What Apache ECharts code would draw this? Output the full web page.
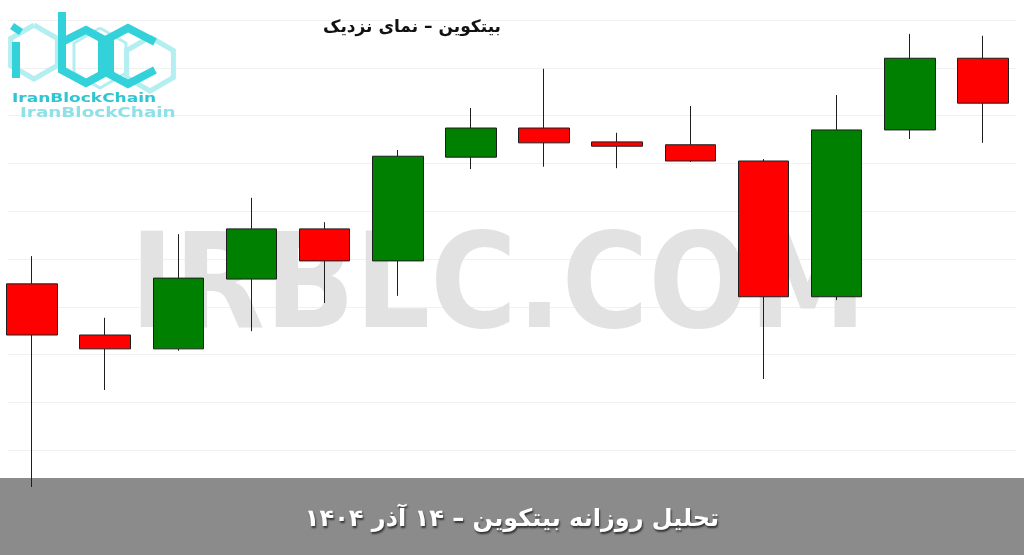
<!DOCTYPE html>
<html>
<head>
<meta charset="utf-8">
<script src="https://cdn.jsdelivr.net/npm/echarts@6/dist/echarts.min.js"></script>
<style>
html,body{margin:0;padding:0;background:#fff;}
#chart{width:1024px;height:555px;}
</style>
</head>
<body>
<div id="chart"></div>
<script>
// Daily candles: [open, close, low, high]
const days = ['1','2','3','4','5','6','7','8','9','10','11','12','13','14'];
const opens  = [88480, 87410, 87120, 88580, 89630, 88960, 91130, 91740, 91450, 91390, 91050, 88210, 91700, 93200];
const closes = [87410, 87120, 88600, 89630, 88960, 91150, 91740, 91430, 91360, 91050, 88210, 91700, 93200, 92260];
const lows   = [84230, 86260, 87080, 87490, 88080, 88230, 90880, 90930, 90900, 91030, 86490, 88140, 91510, 91430];
const highs  = [89060, 87770, 89520, 90280, 89770, 91280, 92160, 92980, 91640, 92200, 91090, 92430, 93710, 93670];
const yTicks = [84000, 94000, 1000];

const titleText = 'بیتکوین – نمای نزدیک';
const bannerText = 'تحلیل روزانه بیتکوین – ۱۴ آذر ۱۴۰۴';
const watermarkText = 'IRBLC.COM';
const logoText = 'IranBlockChain';

const candles = days.map((d, i) => [opens[i], closes[i], lows[i], highs[i]]);

function hexPts(cx, cy, r) {
  const pts = [];
  for (let k = 0; k <= 6; k++) {
    const a = Math.PI / 180 * (60 * k - 90);
    pts.push([cx + r * Math.cos(a), cy + r * Math.sin(a)]);
  }
  return pts;
}

const chart = echarts.init(document.getElementById('chart'), null, {renderer: 'canvas'});
const cyan = '#33d2da';
const lightCyan = '#b3eef0';
const line = (pts, color, w, z) => ({type: 'polyline', z: z, shape: {points: pts}, style: {stroke: color, lineWidth: w, fill: null, lineJoin: 'miter'}});
const graphics = [
  // watermark
  {type: 'text', z: 1, x: 130, y: 293, scaleX: 0.895,
   style: {text: watermarkText, fontFamily: 'DejaVu Sans', fontWeight: 'bold', fontSize: 132, fill: '#e2e2e2', verticalAlign: 'middle'}},
  // banner
  {type: 'rect', z: 1, shape: {x: 0, y: 478, width: 1024, height: 77}, style: {fill: '#8b8b8b'}},
  {type: 'text', z: 3, x: 512, y: 520,
   style: {text: bannerText, fontFamily: 'DejaVu Sans', fontWeight: 'bold', fontSize: 24, fill: '#ffffff', align: 'center', verticalAlign: 'middle', textShadowColor: 'rgba(0,0,0,0.65)', textShadowBlur: 2, textShadowOffsetX: 1, textShadowOffsetY: 2}},
  // title
  {type: 'text', z: 3, x: 412, y: 28,
   style: {text: titleText, fontFamily: 'DejaVu Sans', fontWeight: 'bold', fontSize: 17, fill: '#111111', align: 'center', verticalAlign: 'middle'}},
  // logo pale hexagons
  line(hexPts(34, 52, 27), lightCyan, 5, 3),
  line(hexPts(150, 64, 27), lightCyan, 5, 3),
  line(hexPts(100, 58, 30), lightCyan, 3, 3),
  // i
  line([[12, 26], [21, 32]], cyan, 7, 4),
  line([[16, 42], [16, 78]], cyan, 8, 4),
  // b
  line([[62, 12], [62, 70], [86, 83], [110, 70], [110, 43], [86, 30], [62, 42]], cyan, 8, 4),
  // c
  line([[155, 42], [128, 28], [102, 42], [102, 70], [128, 84], [155, 70]], cyan, 8, 4),
  // logo text
  {type: 'text', z: 4, x: 12, y: 92, scaleX: 1.36, style: {text: logoText, fontFamily: 'DejaVu Sans', fontWeight: 'bold', fontSize: 12.5, fill: '#2ec6d0'}},
  {type: 'text', z: 4, x: 20, y: 106, scaleX: 1.36, style: {text: logoText, fontFamily: 'DejaVu Sans', fontWeight: 'bold', fontSize: 13.5, fill: '#8fe1e7'}}
];

chart.setOption({
  animation: false,
  backgroundColor: '#ffffff',
  grid: [
    {left: 32, top: 20, width: 951, height: 478, containLabel: false},
    {left: 8, top: 20, width: 1008, height: 478, containLabel: false}
  ],
  xAxis: [{
    type: 'category', data: days, boundaryGap: false, gridIndex: 0,
    axisLine: {show: false}, axisTick: {show: false}, axisLabel: {show: false},
    splitLine: {show: false}
  }, {
    type: 'value', min: 0, max: 1, gridIndex: 1, show: false
  }],
  yAxis: [{
    type: 'value', min: yTicks[0], max: yTicks[1], interval: yTicks[2], gridIndex: 0,
    axisLine: {show: false}, axisTick: {show: false}, axisLabel: {show: false},
    splitLine: {show: false}
  }, {
    type: 'value', min: yTicks[0], max: yTicks[1], interval: yTicks[2], gridIndex: 1,
    axisLine: {show: false}, axisTick: {show: false}, axisLabel: {show: false},
    splitLine: {show: true, lineStyle: {color: '#f1f1f1', width: 1}}
  }],
  graphic: graphics,
  series: [{
    type: 'candlestick',
    xAxisIndex: 0, yAxisIndex: 0,
    z: 2,
    clip: false,
    data: candles,
    barWidth: 51,
    itemStyle: {
      color: '#008000', color0: '#ff0000',
      borderColor: '#1e1e1e', borderColor0: '#1e1e1e', borderWidth: 1
    }
  }]
});
</script>
</body>
</html>
